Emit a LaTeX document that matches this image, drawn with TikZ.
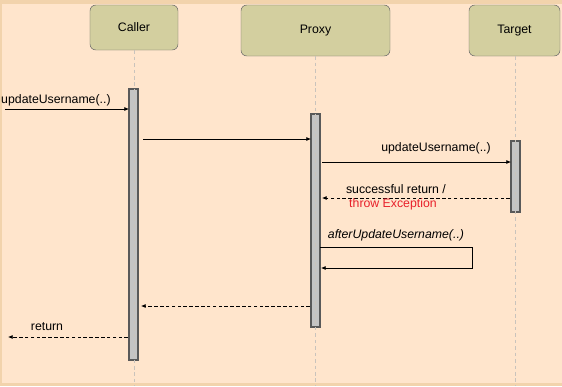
\documentclass[tikz,border=0pt]{standalone}
\usepackage{fontspec}
\setmainfont{Liberation Sans}
\usetikzlibrary{arrows.meta}
\definecolor{frameedge}{HTML}{F2D3AC}
\definecolor{paper}{HTML}{FFE5CC}
\definecolor{actorfill}{HTML}{D3CF9F}
\definecolor{barfill}{HTML}{C4C4C4}
\definecolor{lifegray}{HTML}{C9C3BC}
\definecolor{errred}{HTML}{E8202A}

\begin{document}
\begin{tikzpicture}[x=0.03cm, y=-0.03cm,
        actor/.style={draw=black!60, fill=actorfill, rounded corners=5pt, font=\fontsize{10.5}{12}\selectfont},
        lifeline/.style={draw=lifegray, line width=0.6pt, dash pattern=on 3pt off 2.5pt},
        activation/.style={draw=black!65, fill=barfill, line width=0.9pt},
        msg/.style={-{Latex[length=4pt,width=3.5pt]}, line width=0.6pt},
        reply/.style={msg, dash pattern=on 3pt off 2pt},
        lbl/.style={font=\fontsize{10.5}{12}\selectfont, inner sep=0pt}]

    % background with a darker rim on top, left and bottom
    \fill[frameedge] (0,0) rectangle (562,386);
    \fill[paper] (2,4) rectangle (562,383);

    % participants
    \node[actor, minimum width=2.64cm, minimum height=1.35cm] (caller) at (134,27.5) {Caller};
    \node[actor, minimum width=4.47cm, minimum height=1.53cm] (proxy) at (315.5,30.5) {Proxy};
    \node[actor, minimum width=2.73cm, minimum height=1.53cm] (target) at (514.5,30.5) {Target};

    % activation bars
    \draw[activation] (129,89) rectangle (138,360);
    \draw[activation] (311,114) rectangle (320,327);
    \draw[activation] (511,141) rectangle (520,212);

    % lifelines, running through the bars
    \foreach \who/\x in {caller/134, proxy/315.5, target/515}{
        \draw[lifeline] (\who.south -| \x,0) -- (\x,386);
    }

    % message end points
    \coordinate (in1) at (5,109);     \coordinate (in2) at (129,109);
    \coordinate (fw1) at (143,139);   \coordinate (fw2) at (311,139);
    \coordinate (tg1) at (322,162);   \coordinate (tg2) at (511,162);
    \coordinate (rt1) at (510,198);   \coordinate (rt2) at (322,198);
    \coordinate (sf1) at (320,247);   \coordinate (sf2) at (472,247);
    \coordinate (sf3) at (472,268);   \coordinate (sf4) at (321,268);
    \coordinate (bk1) at (310,306);   \coordinate (bk2) at (141,306);
    \coordinate (ou1) at (128,337);   \coordinate (ou2) at (8,337);

    % calls
    \draw[msg] (in1) -- (in2);
    \node[lbl, anchor=west] (callname) at (1,100) {updateUsername(..)};
    \draw[msg] (fw1) -- (fw2);
    \draw[msg] (tg1) -- (tg2);
    \node[lbl] (targetcall) at (436,148) {updateUsername(..)};

    % answer from the target
    \draw[reply] (rt1) -- (rt2);
    \node[lbl] (okmsg) at (396,189) {successful return /};
    \node[lbl, text=errred] (errmsg) at (393,204) {throw Exception};

    % self call on the proxy
    \draw[msg] (sf1) -- (sf2) -- (sf3) -- (sf4);
    \node[lbl, font=\fontsize{10.5}{12}\selectfont\itshape] (hook) at (396,235) {afterUpdateUsername(..)};

    % returns
    \draw[reply] (bk1) -- (bk2);
    \draw[reply] (ou1) -- (ou2);
    \node[lbl] (retname) at (47,327) {return};
\end{tikzpicture}
\end{document}
